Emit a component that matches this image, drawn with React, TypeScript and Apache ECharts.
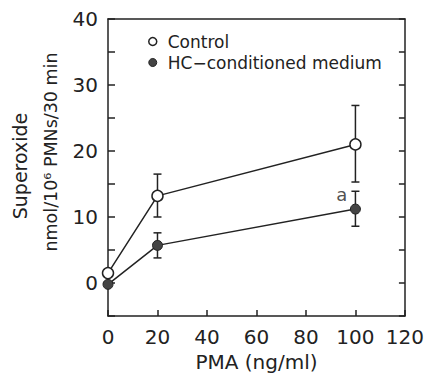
import React, { useEffect, useRef } from "react";
import * as echarts from "echarts";

const pma = [0, 20, 100];
const controlMean = [1.5, 13.2, 21.0];
const controlLow = [1.5, 10.0, 15.3];
const controlHigh = [1.5, 16.5, 26.9];
const hcMean = [-0.2, 5.7, 11.2];
const hcLow = [-0.2, 3.8, 8.6];
const hcHigh = [-0.2, 7.6, 13.9];
const annotation = { x: 94.5, y: 13.4, text: "a" };
const yTickLabels = [0, 10, 20, 30, 40];

const INK = "#222";
const FONT = "DejaVu Sans";

export default function App() {
  const ref = useRef<HTMLDivElement>(null);
  useEffect(() => {
    if (!ref.current) return;
    document.body.style.margin = "0";
    document.body.style.overflow = "hidden";
    const chart = echarts.init(ref.current, undefined, { renderer: "svg" });
    const errData = (lo: number[], hi: number[]) =>
      pma.map((x, i) => [x, lo[i], hi[i]]).filter((d) => d[2] - d[1] > 0.5);
    const errSeries = (name: string, lo: number[], hi: number[]) => ({
      type: "custom",
      name: name + "-err",
      silent: true,
      clip: false,
      z: 1,
      data: errData(lo, hi),
      encode: { x: 0, y: [1, 2] },
      renderItem: (params: any, api: any) => {
        const x = api.value(0);
        const p1 = api.coord([x, api.value(1)]);
        const p2 = api.coord([x, api.value(2)]);
        const w = 4;
        const style = { stroke: INK, lineWidth: 1.5 };
        return {
          type: "group",
          children: [
            { type: "line", shape: { x1: p1[0], y1: p1[1], x2: p2[0], y2: p2[1] }, style },
            { type: "line", shape: { x1: p1[0] - w, y1: p1[1], x2: p1[0] + w, y2: p1[1] }, style },
            { type: "line", shape: { x1: p2[0] - w, y1: p2[1], x2: p2[0] + w, y2: p2[1] }, style },
          ],
        };
      },
    });
    const frameLine = { show: true, onZero: false, lineStyle: { color: INK, width: 1.5 } };
    chart.setOption({
      animation: false,
      backgroundColor: "#fff",
      textStyle: { fontFamily: FONT, color: INK },
      grid: { left: 108, right: 16, top: 19, bottom: 56 },
      legend: {
        orient: "vertical",
        left: 143,
        top: 28,
        itemWidth: 8,
        itemHeight: 8,
        itemGap: 4,
        textStyle: { fontFamily: FONT, fontSize: 17, color: INK, padding: [0, 0, 0, 6] },
        data: [
          { name: "Control", icon: "circle", itemStyle: { color: "#fff", borderColor: INK, borderWidth: 1.5 } },
          { name: "HC−conditioned medium", icon: "circle", itemStyle: { color: "#444", borderColor: INK, borderWidth: 1 } },
        ],
      },
      xAxis: [
        {
          type: "value",
          min: 0,
          max: 120,
          interval: 20,
          name: "PMA (ng/ml)",
          nameLocation: "middle",
          nameGap: 36,
          nameTextStyle: { fontFamily: FONT, fontSize: 20, color: INK },
          axisLine: frameLine,
          axisTick: { show: true, inside: true, length: 6, lineStyle: { color: INK, width: 1.5 } },
          axisLabel: { fontFamily: FONT, fontSize: 20, color: INK, margin: 11 },
          splitLine: { show: false },
        },
        {
          type: "value",
          position: "top",
          min: 0,
          max: 120,
          interval: 20,
          axisLine: frameLine,
          axisTick: { show: false },
          axisLabel: { show: false },
          splitLine: { show: false },
        },
      ],
      yAxis: [
        {
          type: "value",
          min: -5,
          max: 40,
          interval: 5,
          axisLine: frameLine,
          axisTick: { show: true, inside: true, length: 7, lineStyle: { color: INK, width: 1.5 } },
          axisLabel: {
            fontFamily: FONT,
            fontSize: 20,
            color: INK,
            margin: 10,
            formatter: (v: number) => (yTickLabels.includes(v) ? String(v) : ""),
          },
          splitLine: { show: false },
        },
        {
          type: "value",
          position: "right",
          min: -5,
          max: 40,
          interval: 5,
          axisLine: frameLine,
          axisTick: { show: true, inside: true, length: 6, lineStyle: { color: INK, width: 1.5 } },
          axisLabel: { show: false },
          splitLine: { show: false },
        },
      ],
      graphic: [
        {
          type: "text",
          x: 20,
          y: 166,
          rotation: Math.PI / 2,
          style: { text: "Superoxide", fontFamily: FONT, fontSize: 19, fill: INK, textAlign: "center", textVerticalAlign: "middle" },
        },
        {
          type: "text",
          x: 51,
          y: 152,
          rotation: Math.PI / 2,
          style: { text: "nmol/10⁶ PMNs/30 min", fontFamily: FONT, fontSize: 17.5, fill: INK, textAlign: "center", textVerticalAlign: "middle" },
        },
      ],
      series: [
        errSeries("Control", controlLow, controlHigh),
        errSeries("HC−conditioned medium", hcLow, hcHigh),
        {
          type: "line",
          name: "Control",
          data: pma.map((x, i) => [x, controlMean[i]]),
          symbol: "circle",
          symbolSize: 11,
          clip: false,
          z: 3,
          lineStyle: { color: INK, width: 1.5 },
          itemStyle: { color: "#fff", borderColor: INK, borderWidth: 1.5 },
        },
        {
          type: "line",
          name: "HC−conditioned medium",
          data: pma.map((x, i) => [x, hcMean[i]]),
          symbol: "circle",
          symbolSize: 10,
          clip: false,
          z: 4,
          lineStyle: { color: INK, width: 1.5 },
          itemStyle: { color: "#444", borderColor: INK, borderWidth: 1 },
        },
        {
          type: "scatter",
          name: "annotation",
          data: [[annotation.x, annotation.y]],
          symbolSize: 0,
          silent: true,
          itemStyle: { color: INK },
          label: {
            show: true,
            position: "inside",
            formatter: annotation.text,
            fontFamily: FONT,
            fontSize: 18,
            color: INK,
          },
        },
      ],
    });
    return () => chart.dispose();
  }, []);
  return (
    <div
      ref={ref}
      style={{ width: 427, height: 377, position: "fixed", left: 0, top: 0, overflow: "hidden" }}
    />
  );
}
